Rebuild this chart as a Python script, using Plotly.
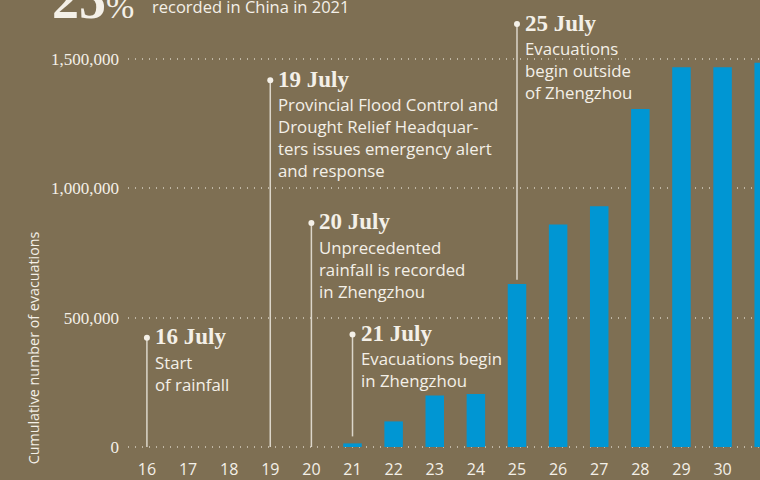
import plotly.graph_objects as go

# Cumulative evacuations per day of July 2021
days = [16, 17, 18, 19, 20, 21, 22, 23, 24, 25, 26, 27, 28, 29, 30, 31]
evacuations = [0, 0, 0, 0, 0, 14000, 99000, 199000, 205000, 630000,
               860000, 931000, 1307000, 1468000, 1468000, 1485000]

# Timeline events: day, label, description, where the marker line starts / ends
event_days = [16, 19, 20, 21, 25]
event_labels = ["16 July", "19 July", "20 July", "21 July", "25 July"]
event_texts = [
    "Start<br>of rainfall",
    "Provincial Flood Control and<br>Drought Relief Headquar-<br>ters issues emergency alert<br>and response",
    "Unprecedented<br>rainfall is recorded<br>in Zhengzhou",
    "Evacuations begin<br>in Zhengzhou",
    "Evacuations<br>begin outside<br>of Zhengzhou",
]
event_tops = [422000, 1418000, 866000, 435000, 1635000]
event_bottoms = [0, 0, 0, 41000, 647000]

y_ticks = [0, 500000, 1000000, 1500000]

BG = "#7e6f53"
TEXT = "#f4f0e8"
BLUE = "#0096d3"
SANS = "Open Sans, sans-serif"
SERIF = "Liberation Serif, serif"

fig = go.Figure()

fig.add_trace(go.Bar(
    x=days, y=evacuations,
    width=0.45,
    marker=dict(color=BLUE, line=dict(width=0)),
    hoverinfo="x+y",
    showlegend=False,
))

# vertical timeline markers
line_x, line_y = [], []
for d, top, bot in zip(event_days, event_tops, event_bottoms):
    line_x += [d, d, None]
    line_y += [bot, top, None]

fig.add_trace(go.Scatter(
    x=line_x, y=line_y, mode="lines",
    line=dict(color="rgba(244,240,232,0.8)", width=1.5),
    hoverinfo="skip", showlegend=False,
))
fig.add_trace(go.Scatter(
    x=event_days, y=event_tops, mode="markers",
    marker=dict(color=TEXT, size=6),
    hoverinfo="skip", showlegend=False,
))

for d, top, lab, txt in zip(event_days, event_tops, event_labels, event_texts):
    fig.add_annotation(
        x=d, y=top, xref="x", yref="y",
        text=f"<b>{lab}</b>", showarrow=False,
        xanchor="left", yanchor="middle", xshift=6, yshift=1,
        font=dict(family=SERIF, size=23, color=TEXT),
    )
    fig.add_annotation(
        x=d, y=top, xref="x", yref="y",
        text=txt, showarrow=False, align="left",
        xanchor="left", yanchor="top", xshift=6, yshift=-11,
        font=dict(family=SANS, size=16.8, color=TEXT),
    )

# header text, cropped at the top of the picture
fig.add_annotation(
    x=-0.123, y=0.93, xref="paper", yref="paper",
    text="<b>25</b><span style='font-size:34px'>%</span>", showarrow=False,
    xanchor="left", yanchor="bottom",
    font=dict(family=SERIF, size=54, color=TEXT),
)
fig.add_annotation(
    x=0.0348, y=0.985, xref="paper", yref="paper",
    text="recorded in China in 2021", showarrow=False,
    xanchor="left", yanchor="middle",
    font=dict(family=SANS, size=16.5, color=TEXT),
)

# y-axis title
fig.add_annotation(
    x=-0.149, y=0.2346, xref="paper", yref="paper",
    text="Cumulative number of evacuations", showarrow=False,
    textangle=-90, xanchor="center", yanchor="middle",
    font=dict(family=SANS, size=14.3, color=TEXT),
)

fig.update_layout(
    width=760, height=480,
    margin=dict(l=128, r=0, t=0, b=24),
    paper_bgcolor=BG, plot_bgcolor=BG,
    bargap=0.55,
    xaxis=dict(
        range=[15.54, 30.91],
        tickvals=days, ticktext=[str(d) for d in days],
        showgrid=False, zeroline=False, showline=False, ticks="",
        ticklabelstandoff=4,
        tickfont=dict(family=SANS, size=16, color=TEXT),
    ),
    yaxis=dict(
        range=[-27000, 1728000],
        tickvals=y_ticks, tickformat=",",
        showgrid=True, gridcolor="rgba(244,240,232,0.55)", gridwidth=1.5,
        griddash="1px,6px",
        zeroline=False, showline=False, ticks="",
        ticklabelstandoff=8,
        tickfont=dict(family=SERIF, size=17, color=TEXT),
    ),
)

fig.write_html(
    "out.html",
    config={"displayModeBar": False},
    post_script="document.body.style.margin='0';",
)
